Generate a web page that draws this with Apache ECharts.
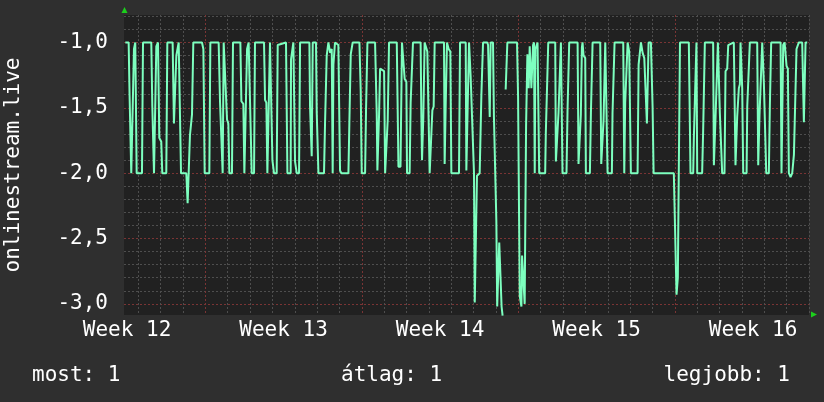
<!DOCTYPE html>
<html><head><meta charset="utf-8">
<script src="https://cdn.jsdelivr.net/npm/echarts@6/dist/echarts.min.js"></script>
<style>html,body{margin:0;padding:0;background:#2f2f2f}#c{width:824px;height:402px}</style>
</head><body><div id="c"></div>
<script>
// time in hours relative to the start (Monday 00:00) of Week 13
const hours = [-85.9,-82.3,-81.3,-79.5,-78.0,-76.6,-75.2,-73.7,-68.0,-66.9,-58.0,-56.9,-55.1,-53.7,-52.6,-50.8,-49.4,-47.3,-46.2,-41.9,-40.8,-35.1,-33.7,-32.2,-31.1,-28.6,-26.1,-20.4,-19.0,-17.2,-16.5,-14.3,-12.9,-3.6,-2.1,-0.7,4.3,5.4,14.3,15.8,17.2,18.6,19.7,21.8,23.3,24.7,25.8,28.6,29.7,37.6,38.7,40.8,41.9,43.7,44.8,46.5,48.3,49.8,52.3,53.3,63.0,64.1,65.5,66.6,68.7,69.4,71.2,72.0,73.7,76.6,77.7,86.6,88.1,91.6,92.0,93.4,94.5,95.6,96.3,98.1,100.6,101.7,111.7,112.4,114.2,115.3,118.8,119.6,121.4,127.4,128.5,130.3,132.1,134.0,135.7,136.7,137.5,139.2,142.8,144.6,146.0,153.6,154.6,156.1,158.2,165.4,166.8,167.9,171.5,172.5,174.0,182.2,184.0,184.7,186.5,187.6,189.4,191.9,193.0,194.8,195.8,197.2,205.5,207.3,209.5,211.1,213.2,214.0,215.8,216.5,219.3,220.4,221.8,222.9,231.1,231.9,232.6,234.0,235.4,237.2,238.3,239.7,240.8,242.6,243.7,245.1,246.2,256.2,256.9,258.0,259.4,261.2,263.0,264.1,272.3,273.4,279.5,280.2,282.0,283.1,284.8,286.3,288.4,289.2,290.9,291.6,294.5,296.3,298.1,302.7,303.5,305.3,306.3,308.8,309.8,312.4,313.3,314.5,315.5,317.0,318.0,319.1,320.7,322.4,323.5,324.2,334.6,335.7,336.8,337.5,339.3,340.0,342.1,342.8,344.3,345.7,347.1,348.2,350.0,351.8,352.8,353.6,354.3,356.6,357.7,358.4,364.8,365.5,366.6,368.1,375.6,376.3,378.1,379.1,380.6,381.7,382.7,383.4,387.7,388.8,389.9,390.6,399.6,400.6,402.4,403.1,404.2,404.9,406.0,407.8,408.5,412.8,413.9,414.9,415.7,423.9,425.0,426.4,427.5,428.9,429.3,430.7,431.8,436.4,437.1,438.2,439.3,448.6,449.7,450.7,452.2,453.3,455.0,456.8,464.0,465.1,466.5,467.6,469.4,471.2,473.0,474.0,475.8,478.3,480.1,481.2,502.9,505.8,507.2,508.3,509.5,519.0,520.8,523.7,524.4,526.2,527.2,528.0,533.3,534.4,535.1,536.2,545.1,545.9,547.7,548.7,550.2,551.2,552.3,553.7,554.8,557.3,558.4,560.2,561.3,567.3,569.1,570.9,572.7,573.8,574.5,576.3,577.4,581.0,581.7,583.5,584.5,592.4,593.5,594.9,596.7,597.8,599.6,600.6,602.1,604.9,606.0,607.4,617.5,618.5,620.3,621.8,623.9,625.3,626.4,628.2,630.0,631.8,633.6,634.6,636.1,637.1,640.7,642.5,643.6,644.3,646.1];
const values = [-1.0,-1.0,-1.41,-2.0,-2.0,-1.05,-1.0,-2.0,-2.0,-1.0,-1.0,-1.49,-2.0,-2.0,-1.03,-1.0,-1.73,-1.76,-2.0,-2.0,-1.0,-1.0,-1.62,-1.62,-1.1,-1.0,-2.0,-2.0,-2.23,-2.23,-1.71,-1.55,-1.0,-1.0,-1.05,-2.0,-2.0,-1.0,-1.0,-1.46,-1.46,-2.0,-1.0,-1.0,-1.59,-1.62,-2.0,-2.0,-1.0,-1.0,-1.45,-1.47,-2.0,-2.0,-1.05,-1.0,-1.0,-2.0,-2.0,-1.0,-1.0,-1.44,-1.46,-2.0,-2.0,-1.0,-1.0,-1.9,-2.0,-2.0,-1.02,-1.0,-2.0,-2.0,-1.13,-1.13,-1.0,-1.0,-1.91,-2.0,-2.0,-1.0,-1.0,-1.49,-1.87,-1.0,-1.0,-1.54,-2.0,-2.0,-1.62,-1.1,-1.0,-1.08,-1.05,-2.0,-1.17,-1.0,-1.02,-1.98,-2.0,-2.0,-1.62,-1.09,-1.0,-1.0,-1.37,-2.0,-2.0,-1.52,-1.0,-1.0,-1.55,-1.98,-1.55,-1.2,-1.2,-1.22,-2.0,-2.0,-1.59,-1.0,-1.0,-1.95,-1.95,-1.0,-1.0,-1.28,-1.3,-2.0,-2.0,-1.46,-1.45,-1.0,-1.0,-1.57,-1.9,-1.57,-1.0,-1.0,-1.07,-1.07,-2.0,-2.0,-1.52,-1.49,-1.0,-1.0,-1.93,-1.49,-1.0,-1.05,-1.07,-2.0,-2.0,-1.0,-1.0,-1.98,-1.36,-1.0,-1.26,-1.27,-2.0,-2.99,-2.99,-2.02,-2.0,-1.41,-1.0,-1.0,-1.02,-1.57,-1.0,-1.0,-1.57,-2.37,-3.02,-3.02,-2.53,-2.53,-3.02,-3.09,null,-1.36,-1.36,-1.0,-1.0,-1.41,-1.42,-2.94,-3.02,-2.63,-2.63,-3.0,-1.64,-1.09,-1.35,-1.03,-1.35,-1.02,-1.0,-2.0,-1.05,-1.0,-1.0,-2.0,-2.0,-1.69,-1.69,-1.0,-1.0,-1.91,-1.91,-1.54,-1.53,-1.0,-1.0,-2.0,-2.0,-1.52,-1.52,-1.0,-1.0,-1.93,-1.93,-1.55,-1.04,-1.0,-1.1,-1.12,-2.0,-2.0,-1.54,-1.54,-1.0,-1.0,-1.93,-1.93,-1.59,-1.59,-1.0,-1.0,-2.0,-2.0,-1.54,-1.54,-1.0,-1.0,-2.0,-1.46,-1.45,-1.0,-1.07,-2.0,-2.0,-1.17,-1.16,-1.0,-1.08,-1.12,-1.12,-1.62,-1.0,-1.0,-1.49,-2.0,-2.0,-2.93,-2.8,-2.8,-1.0,-1.0,-2.0,-2.0,-1.73,-1.73,-1.0,-2.0,-2.0,-1.67,-1.67,-1.0,-1.0,-1.94,-1.57,-1.57,-1.0,-1.0,-1.54,-1.54,-2.0,-2.0,-1.22,-1.2,-1.02,-1.0,-1.94,-1.57,-1.35,-1.32,-1.0,-1.35,-2.0,-2.0,-1.49,-1.48,-1.0,-1.0,-1.94,-1.55,-1.55,-1.0,-1.32,-1.32,-2.0,-2.0,-1.48,-1.0,-1.0,-2.0,-1.02,-1.0,-1.18,-1.2,-2.0,-2.03,-2.0,-1.86,-1.85,-1.05,-1.05,-1.0,-1.0,-1.61,-1.61,-1.0,-1.0];
const weekLabels = ['Week 12','Week 13','Week 14','Week 15','Week 16'];
const weekLabelHours = [-84, 84, 252, 420, 588];
const yTickValues = [-3.0, -2.5, -2.0, -1.5, -1.0];
const axisTitle = 'onlinestream.live';
const legendTexts = ['most: 1', 'átlag: 1', 'legjobb: 1'];

const X_MIN = -87.3, X_MAX = 648;
const Y_MIN = -3.085, Y_MAX = -0.79;
const FONT = 'DejaVu Sans Mono';
const TXT = '#ffffff';

const dayLines = [], weekLines = [];
for (let h = -72; h <= X_MAX; h += 24) { if (h % 168 === 0) weekLines.push(h); else dayLines.push(h); }
const yMinor = [];
for (let k = -30; k <= -8; k++) { if (k % 5 !== 0) yMinor.push(k / 10); }

const data = hours.map((h, i) => [h, values[i]]);

const minorStyle = { color: '#4e4e4e', type: [2, 2], width: 1 };
const majorStyle = { color: '#7a3434', type: [2, 2], width: 1 };

function xAx(extra) {
  return Object.assign({ type: 'value', min: X_MIN, max: X_MAX, position: 'bottom',
    axisLine: { show: false }, axisLabel: { show: false } }, extra);
}
function yAx(extra) {
  return Object.assign({ type: 'value', min: Y_MIN, max: Y_MAX, position: 'left',
    axisLine: { show: false }, axisLabel: { show: false } }, extra);
}

const chart = echarts.init(document.getElementById('c'), null, { renderer: 'canvas' });
chart.setOption({
  animation: false,
  backgroundColor: '#2f2f2f',
  grid: { left: 124, right: 15, top: 15, bottom: 87, show: true, backgroundColor: '#212121', borderWidth: 0,
    containLabel: false, outerBoundsMode: 'none' },
  title: [
    { text: legendTexts[0], left: 32, top: 365, padding: 0, textStyle: { color: TXT, fontFamily: FONT, fontSize: 21, fontWeight: 'normal' } },
    { text: legendTexts[1], left: 341, top: 365, padding: 0, textStyle: { color: TXT, fontFamily: FONT, fontSize: 21, fontWeight: 'normal' } },
    { text: legendTexts[2], right: 34, top: 365, padding: 0, textStyle: { color: TXT, fontFamily: FONT, fontSize: 21, fontWeight: 'normal' } }
  ],
  xAxis: [
    xAx({ axisTick: { show: false, customValues: dayLines }, splitLine: { show: true, lineStyle: minorStyle } }),
    xAx({ axisTick: { show: false, customValues: weekLines }, splitLine: { show: true, lineStyle: majorStyle } }),
    xAx({ axisTick: { show: false, customValues: weekLabelHours }, splitLine: { show: false },
      axisLabel: { show: true, customValues: weekLabelHours, margin: 5, color: TXT, fontFamily: FONT, fontSize: 21,
        alignMinLabel: 'center', alignMaxLabel: 'center', hideOverlap: false,
        formatter: v => weekLabels[weekLabelHours.indexOf(v)] } })
  ],
  yAxis: [
    yAx({ axisTick: { show: false, customValues: yMinor }, splitLine: { show: true, lineStyle: minorStyle } }),
    yAx({ axisTick: { show: false, customValues: yTickValues }, splitLine: { show: true, lineStyle: majorStyle },
      axisLabel: { show: true, customValues: yTickValues, margin: 16, color: TXT, fontFamily: FONT, fontSize: 21,
        formatter: v => v.toFixed(1).replace('.', ',') },
      name: axisTitle, nameLocation: 'middle', nameGap: 100, nameRotate: 90,
      nameTextStyle: { color: TXT, fontFamily: FONT, fontSize: 21 } })
  ],
  series: [{
    type: 'line', xAxisIndex: 0, yAxisIndex: 0, data: data, showSymbol: false, symbol: 'none',
    connectNulls: false, z: 5,
    lineStyle: { color: '#7dffbf', width: 2 }
  }],
  graphic: [
    { type: 'polygon', shape: { points: [[121.5, 13], [127.5, 13], [124.5, 7]] }, style: { fill: '#1ccf1c' }, silent: true },
    { type: 'polygon', shape: { points: [[811, 311.5], [811, 317.5], [817, 314.5]] }, style: { fill: '#1ccf1c' }, silent: true }
  ]
});
</script></body></html>
